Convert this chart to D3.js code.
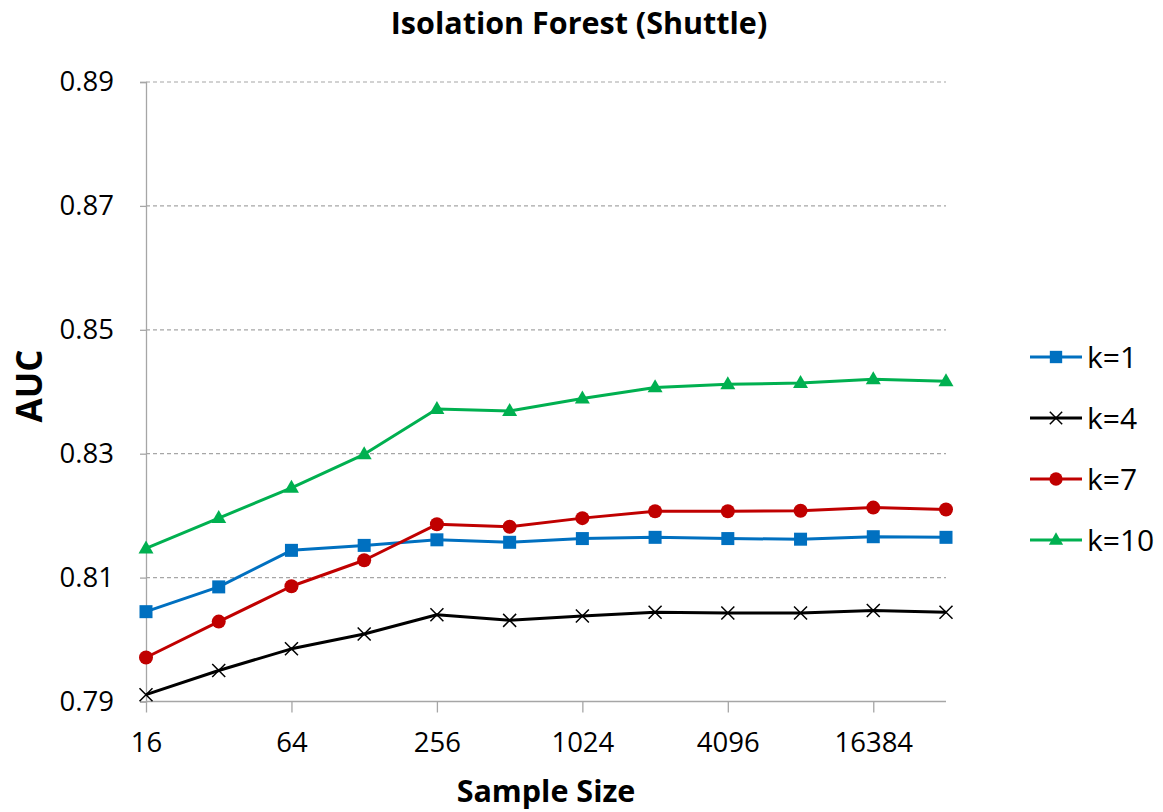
<!DOCTYPE html>
<html><head><meta charset="utf-8">
<script src="https://cdn.jsdelivr.net/npm/d3@7"></script>
<style>body{margin:0;background:#fff}svg{display:block}text{font-family:"Open Sans",sans-serif}</style>
</head><body><svg id="c" width="1163" height="812"></svg>
<script>
const sampleSizes = [16,32,64,128,256,512,1024,2048,4096,8192,16384,32768];
const xTickLabels = [16,64,256,1024,4096,16384];
const yTicks = [0.79,0.81,0.83,0.85,0.87,0.89];
const seriesNames = ["k=1","k=4","k=7","k=10"];
const k1  = [0.8045,0.8085,0.8144,0.8152,0.8161,0.8157,0.8163,0.8165,0.8163,0.8162,0.8166,0.8165];
const k4  = [0.7911,0.7950,0.7985,0.8009,0.8040,0.8031,0.8038,0.8044,0.8043,0.8043,0.8047,0.8044];
const k7  = [0.7971,0.8029,0.8086,0.8128,0.8186,0.8182,0.8196,0.8207,0.8207,0.8208,0.8213,0.8210];
const k10 = [0.8147,0.8196,0.8245,0.8299,0.8372,0.8369,0.8389,0.8407,0.8412,0.8414,0.8420,0.8417];

const colors = ["#0070C0","#000000","#C00000","#00B050"];
const markers = ["square","x","circle","triangle"];
const series = [k1,k4,k7,k10];

const svg = d3.select("#c");
const x = d3.scaleLog().base(2).domain([16,32768]).range([146,946]);
const y = d3.scaleLinear().domain([0.79,0.89]).range([701.5,82]);
const FONT = "'Open Sans',sans-serif";

// gridlines
svg.append("g").selectAll("line").data(yTicks.filter(d=>d>0.79)).join("line")
  .attr("x1",146).attr("x2",946).attr("y1",d=>y(d)).attr("y2",d=>y(d))
  .attr("stroke","#a6a6a6").attr("stroke-width",1.2).attr("stroke-dasharray","4,3");

// y axis
const yAxis = d3.axisLeft(y).tickValues(yTicks).tickFormat(d3.format(".2f")).tickSize(6).tickPadding(26);
const gy = svg.append("g").attr("transform","translate(146,0)").call(yAxis);
gy.select(".domain").attr("stroke","#a6a6a6").attr("stroke-width",1.3);
gy.selectAll(".tick line").attr("stroke","#a6a6a6").attr("stroke-width",1.3);
gy.selectAll(".tick text").attr("font-size",27.5).attr("fill","#000").attr("font-family",FONT);

// x axis
const xAxis = d3.axisBottom(x).tickValues(xTickLabels).tickFormat(d3.format("d")).tickSize(11).tickPadding(20);
const gx = svg.append("g").attr("transform","translate(0,701.5)").call(xAxis);
gx.select(".domain").attr("stroke","#a6a6a6").attr("stroke-width",1.3).attr("d","M146,0H946");
gx.selectAll(".tick line").attr("stroke","#a6a6a6").attr("stroke-width",1.3);
gx.selectAll(".tick text").attr("font-size",27.5).attr("fill","#000").attr("font-family",FONT);

function drawMarker(g, type, color, cx, cy, scale){
  scale = scale||1;
  if(type==="square"){
    const s=13*scale;
    g.append("rect").attr("x",cx-s/2).attr("y",cy-s/2).attr("width",s).attr("height",s).attr("fill",color);
  } else if(type==="circle"){
    g.append("circle").attr("cx",cx).attr("cy",cy).attr("r",7*scale).attr("fill",color);
  } else if(type==="triangle"){
    const w=15*scale, h=13*scale;
    g.append("path").attr("d",`M${cx},${cy-h*0.62}L${cx+w/2},${cy+h*0.38}L${cx-w/2},${cy+h*0.38}Z`).attr("fill",color);
  } else {
    const s=6.5*scale;
    g.append("path").attr("d",`M${cx-s},${cy-s}L${cx+s},${cy+s}M${cx-s},${cy+s}L${cx+s},${cy-s}`)
      .attr("stroke",color).attr("stroke-width",1.5).attr("fill","none");
  }
}

const line = d3.line().x((d,i)=>x(sampleSizes[i])).y(d=>y(d));
series.forEach((vals,si)=>{
  const g = svg.append("g");
  g.append("path").attr("d",line(vals)).attr("fill","none").attr("stroke",colors[si]).attr("stroke-width",3).attr("stroke-linejoin","round");
  vals.forEach((v,i)=>drawMarker(g,markers[si],colors[si],x(sampleSizes[i]),y(v)));
});

// legend
const legY = [357,418,479,540];
seriesNames.forEach((n,i)=>{
  const g = svg.append("g");
  g.append("line").attr("x1",1030).attr("x2",1082).attr("y1",legY[i]).attr("y2",legY[i]).attr("stroke",colors[i]).attr("stroke-width",3);
  drawMarker(g,markers[i],colors[i],1056,legY[i],0.95);
  g.append("text").attr("x",1087).attr("y",legY[i]).attr("dy","0.36em").attr("font-size",30).text(n);
});

// titles
svg.append("text").attr("x",579).attr("y",34).attr("text-anchor","middle").attr("font-size",30.5).attr("font-weight","bold").text("Isolation Forest (Shuttle)");
svg.append("text").attr("x",546).attr("y",802).attr("text-anchor","middle").attr("font-size",30.5).attr("font-weight","bold").text("Sample Size");
svg.append("text").attr("transform","translate(42,386) rotate(-90)").attr("text-anchor","middle").attr("font-size",35).attr("font-weight","bold").text("AUC");
</script></body></html>
